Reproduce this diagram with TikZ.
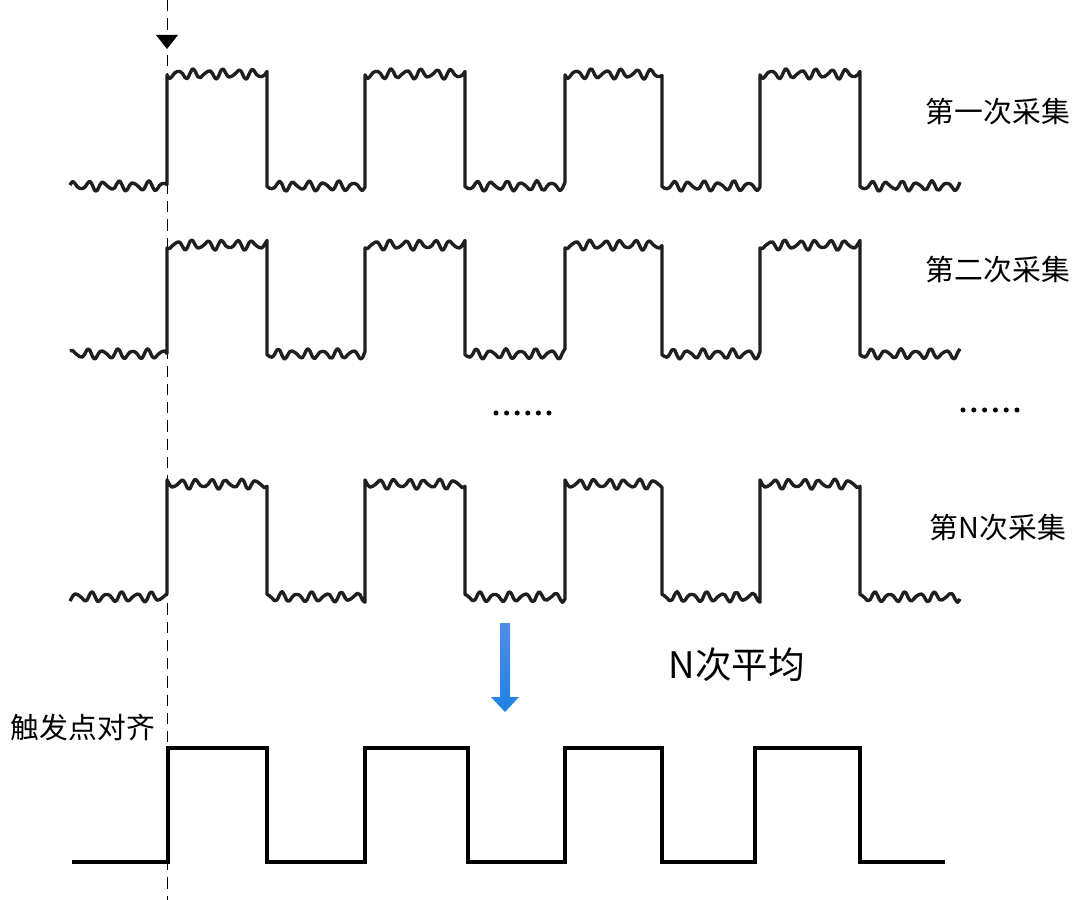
\documentclass[tikz,border=0pt]{standalone}
\usepackage{fontspec}
\setmainfont{Noto Sans CJK SC}
\usepackage{tikz}
\def\wavewidth{2.4}
\definecolor{waveblack}{rgb}{0.12,0.12,0.12}
\definecolor{arrowtop}{RGB}{80,140,230}
\definecolor{arrowmid}{RGB}{40,185,245}
\definecolor{arrowbot}{RGB}{30,130,228}
\tikzset{
  declare function={noise(\t)=4.0*(1+sin(24*\t))+1.4*sin(37*\t+40);},
  noisy/.style={line width=\wavewidth pt, color=waveblack, samples=40, smooth, line join=round},
  cleanwave/.style={line width=2.2pt, color=black, line join=miter},
  trigline/.style={line width=0.6pt, dash pattern=on 8pt off 5pt},
  lab/.style={font=\fontsize{20.5pt}{24pt}\selectfont, inner sep=0pt},
  avgtext/.style={font=\fontsize{26pt}{30pt}\selectfont, inner sep=0pt}
}
% #1 high level, #2 low level, #3 phase
\newcommand\noisywave[3]{%
  \draw[noisy] plot[domain=70:167] (\x,{#2-noise(\x-70+#3)})
    \foreach \a/\b/\c in {167/267/365,365/465/565,565/662/760,760/860/960}{
      -- plot[domain=\a:\b] (\x,{#1+noise(\x-\a+#3)})
      -- plot[domain=\b:\c] (\x,{#2-noise(\x-\b+#3+7)})
    };
}
\begin{document}
\begin{tikzpicture}[x = 0.025cm, y = -0.025cm]
            \useasboundingbox (0,0) rectangle (1079,900);
            
            \coordinate (ttop) at (167,0);
            \coordinate (tbot) at (167,900);
            \draw [trigline] (ttop) -- (tbot);
            \fill [black] (156,35) -- (178,35) -- (167,49) -- cycle;
            
            \noisywave{70}{190}{0}
            \noisywave{241}{358}{31}
            \noisywave{480}{601}{57}
            
            \node[lab] (lab1) at (998,112) {第一次采集};
            \node[lab] (lab2) at (998,270) {第二次采集};
            \node[lab] (labN) at (998,528) {第N次采集};
            
            \foreach \i in {0,...,5}{
              \fill (496+10.6*\i,413) circle (1.8pt);
              \fill (963+10.8*\i,410) circle (1.8pt);
            }
            
            \shade [top color=arrowtop, middle color=arrowmid, bottom color=arrowbot]
              (500,623) -- (510,623) -- (510,697) -- (519,697) -- (505,712) -- (491,697) -- (500,697) -- cycle;
            \node[avgtext] (avg) at (737,665) {N次平均};
            
            \node[lab] (trig) at (83,728) {触发点对齐};
            
            \draw [cleanwave] (72,862) -- (168,862) -- (168,748) -- (267,748) -- (267,862) -- (365,862) -- (365,748)
              -- (468,748) -- (468,862) -- (565,862) -- (565,748) -- (662,748) -- (662,862) -- (755,862)
              -- (755,748) -- (860,748) -- (860,862) -- (945,862);
            
\end{tikzpicture}
\end{document}
